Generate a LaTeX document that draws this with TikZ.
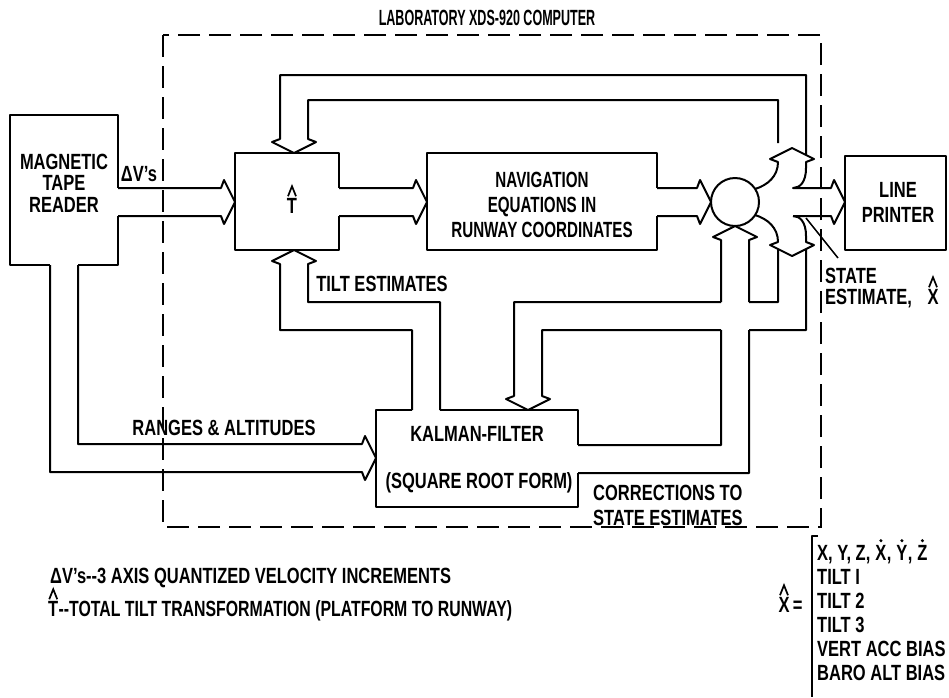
\documentclass[tikz,border=0pt]{standalone}
\usepackage{fontspec}
\setmainfont{Liberation Sans}[FakeStretch=0.75]
\newfontfamily\navfont{Liberation Sans}[FakeStretch=0.69]
\newfontfamily\legfont{Liberation Sans}[FakeStretch=0.72]
\newfontfamily\titlefont{Liberation Sans}[FakeStretch=0.57]
\newcommand\drawhat[1]{\draw[hatln] ([shift={(-4,-2)}]#1.north) -- ([shift={(0,-12)}]#1.north) -- ([shift={(4,-2)}]#1.north);}
\newcommand\drawdot[1]{\fill ([shift={(0,-4)}]#1.north) circle (1.7pt);}
\begin{document}
\begin{tikzpicture}[x=1pt,y=-1pt,
  lbl/.style={font=\fontsize{22}{23}\selectfont\bfseries, inner sep=0pt, align=center},
  ln/.style={line width=2pt, line join=round},
  hatln/.style={line width=1.7pt, line join=miter},
  dashbox/.style={line width=2pt, dash pattern=on 22pt off 9pt},
  headR/.style={insert path={-- ++(3,-8) -- ++(11,22) -- ++(-11,22) -- ++(-3,-8)}},
  headU/.style={insert path={-- ++(-8,-3) -- ++(22,-11) -- ++(22,11) -- ++(-8,3)}},
  headD/.style={insert path={-- ++(-8,3) -- ++(22,11) -- ++(22,-11) -- ++(-8,-3)}},
]
\useasboundingbox (0,0) rectangle (949,697);

% computer frame
\node[lbl, font=\fontsize{22}{23}\selectfont\titlefont\bfseries] (title) at (487,18) {LABORATORY XDS-920 COMPUTER};
\draw[dashbox] (163,35) rectangle (821,527);

% magnetic tape reader
\draw[ln] (118,188) -- (118,115) -- (10,115) -- (10,265) -- (50,265)
          (78,265) -- (118,265) -- (118,216);
\node[lbl, font=\fontsize{22}{21.5}\selectfont\bfseries] (tape) at (64,183) {MAGNETIC\\TAPE\\READER};

% delta V arrow
\draw[ln] (118,188) -- (221,188) [headR] -- (118,216);
\node[lbl] (dv) at (139,174) {ΔV's};

% T hat box
\draw[ln] (339,188) -- (339,153) -- (235,153) -- (235,250) -- (339,250) -- (339,216);
\node[lbl] (that) at (292,206) {T};
\drawhat{that}

% T -> navigation
\draw[ln] (339,188) -- (413,188) [headR] -- (339,216);

% navigation box
\draw[ln] (657,188) -- (657,153) -- (427,153) -- (427,250) -- (657,250) -- (657,216);
\node[lbl, font=\fontsize{22}{25}\selectfont\navfont\bfseries] (nav) at (542,205) {NAVIGATION\\EQUATIONS IN\\RUNWAY COORDINATES};

% navigation -> summing circle
\draw[ln] (657,188) -- (697,188) [headR] -- (657,216);
\node[draw, circle, line width=2pt, minimum size=48pt, inner sep=0pt] (sum) at (735,202) {};

% split outputs of the circle
\draw[ln] (755,189) .. controls (768,185) and (778,176) .. (778,162) [headU]
          -- (806,168) .. controls (806,182) and (800,188) .. (793,188)
          -- (831,188) [headR] -- (793,216);
\draw[ln] (755,215) .. controls (768,219) and (778,228) .. (778,242) [headD]
          -- (806,236) .. controls (806,222) and (800,216) .. (793,216);

% top feedback loop into T hat
\draw[ln] (806,155) -- (806,75) -- (280,75) -- (280,139) [headD]
          -- (308,100) -- (778,100) -- (778,143);

% tilt estimates
\draw[ln] (412,410) -- (412,330) -- (280,330) -- (280,264) [headU]
          -- (308,302) -- (440,302) -- (440,410);
\node[lbl] (tilt) at (382,284) {TILT ESTIMATES};

% kalman filter box
\draw[ln] (412,410) -- (376,410) -- (376,507) -- (578,507) -- (578,473)
          (578,445) -- (578,410) -- (440,410);
\node[lbl] (kf) at (477,434) {KALMAN-FILTER};
\node[lbl] (srf) at (479,483) {(SQUARE ROOT FORM)};

% corrections to state estimates
\draw[ln] (578,445) -- (721,445) -- (721,330)
          (721,302) -- (721,240) [headU] -- (749,302)
          (749,330) -- (749,473) -- (578,473);
\node[lbl, align=left, anchor=north west, font=\fontsize{22}{25}\selectfont\bfseries] (corr) at (593,485) {CORRECTIONS TO\\STATE ESTIMATES};

% lower feedback loop into kalman filter
\draw[ln] (778,249) -- (778,302) -- (749,302)
          (721,302) -- (514,302) -- (514,396) [headD] -- (542,330) -- (721,330)
          (749,330) -- (806,330) -- (806,249);

% ranges and altitudes
\draw[ln] (78,265) -- (78,444) -- (362,444) [headR] -- (50,472) -- (50,265);
\node[lbl] (ranges) at (224,428) {RANGES \& ALTITUDES};

% line printer
\draw[ln] (845,156) rectangle (946,250);
\node[lbl, font=\fontsize{22}{25}\selectfont\bfseries] (lp) at (898,202) {LINE\\PRINTER};

% state estimate label
\coordinate (ptA) at (806,218);
\coordinate (ptB) at (838,258);
\draw[line width=1.5pt] (ptA) -- (ptB);
\node[lbl, align=left, anchor=north west, font=\fontsize{22}{21}\selectfont\bfseries] (st) at (825,268) {STATE\\ESTIMATE,};
\node[lbl] (st3) at (933,297) {X};
\drawhat{st3}

% legends
\node[lbl, anchor=west] (leg1) at (50,578) {ΔV's-{}-3 AXIS QUANTIZED VELOCITY INCREMENTS};
\node[lbl, anchor=west] (leg2t) at (48,609) {T};
\node[lbl, anchor=base west, font=\fontsize{22}{23}\selectfont\legfont\bfseries] (leg2) at (leg2t.base east) {-{}-TOTAL TILT TRANSFORMATION (PLATFORM TO RUNWAY)};
\drawhat{leg2t}

% state vector definition
\draw[ln] (818,536) -- (812,536) -- (812,697);
\node[lbl] (xh) at (784,605) {X};
\drawhat{xh}
\node[lbl, anchor=base west] (eq) at ([xshift=3pt]xh.base east) {=};
\node[lbl, anchor=base west] (v1) at (817,560) {X, Y, Z,};
\node[lbl, anchor=base west] (d1) at ([xshift=4.6pt]v1.base east) {X};
\node[lbl, anchor=base west] (c1) at (d1.base east) {,};
\node[lbl, anchor=base west] (d2) at ([xshift=4.6pt]c1.base east) {Y};
\node[lbl, anchor=base west] (c2) at (d2.base east) {,};
\node[lbl, anchor=base west] (d3) at ([xshift=4.6pt]c2.base east) {Z};
\drawdot{d1}
\drawdot{d2}
\drawdot{d3}
\node[lbl, anchor=base west] (v2) at (817,584) {TILT I};
\node[lbl, anchor=base west] (v3) at (817,608) {TILT 2};
\node[lbl, anchor=base west] (v4) at (817,632) {TILT 3};
\node[lbl, anchor=base west] (v5) at (817,656) {VERT ACC BIAS};
\node[lbl, anchor=base west] (v6) at (817,680) {BARO ALT BIAS};
\end{tikzpicture}
\end{document}
